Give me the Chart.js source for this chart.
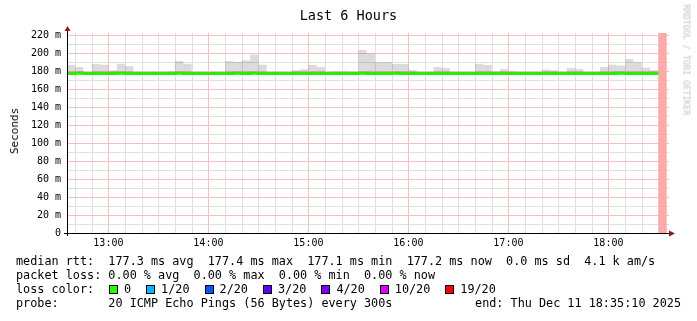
<!DOCTYPE html>
<html>
<head>
<meta charset="utf-8">
<script src="https://cdn.jsdelivr.net/npm/chart.js@4/dist/chart.umd.min.js"></script>
<style>
  body { margin: 0; background: #fff; }
  #wrap { position: relative; width: 697px; height: 321px; font-family: 'DejaVu Sans Mono', monospace; color: #000; overflow: hidden; }
  #chart { position: absolute; left: 0; top: 0; }
  .txt { position: absolute; white-space: pre; font-size: 11.8px; line-height: 14px; }
  #title { position: absolute; left: 0; width: 697px; top: 7px; text-align: center; font-size: 13.5px; line-height: 16px; }
  #ylabel { position: absolute; left: 15px; top: 131px; font-size: 11px; line-height: 12px; transform: translate(-50%, -50%) rotate(-90deg); white-space: pre; }
  #brand { position: absolute; left: 686px; top: 60px; font-size: 8.4px; line-height: 9px; color: #c4c4c4; transform: translate(-50%, -50%) rotate(90deg); white-space: pre; }
  .box { display: inline-block; width: 7px; height: 7px; border: 1px solid #000; margin-right: 6px; vertical-align: -1px; }
  .lbl { margin-right: 15px; }
</style>
</head>
<body>
<div id="wrap">
  <canvas id="chart" width="697" height="321"></canvas>
  <div id="title">Last 6 Hours</div>
  <div id="ylabel">Seconds</div>
  <div id="brand">RRDTOOL / TOBI OETIKER</div>
  <div class="txt" style="left:16px; top:254px">median rtt:  177.3 ms avg  177.4 ms max  177.1 ms min  177.2 ms now  0.0 ms sd  4.1 k am/s</div>
  <div class="txt" style="left:16px; top:268px">packet loss: 0.00 % avg  0.00 % max  0.00 % min  0.00 % now</div>
  <div class="txt" style="left:16px; top:282px">loss color:</div>
  <div class="txt" id="losscolors" style="left:109px; top:282px"></div>
  <div class="txt" style="left:16px; top:296px">probe:       20 ICMP Echo Pings (56 Bytes) every 300s</div>
  <div class="txt" style="right:16px; top:296px">end: Thu Dec 11 18:35:10 2025</div>
</div>
<script>
// time axis in minutes after 12:00; rrd steps of 5 minutes starting 12:35
const startMinute = 35;
const stepMinutes = 5;
const xMin = 35 + 10 / 60;   // 12:35:10
const xMax = 395 + 10 / 60;  // 18:35:10
const xTickValues = [40, 50, 60, 70, 80, 90, 100, 110, 120, 130, 140, 150, 160, 170, 180, 190, 200, 210,
  220, 230, 240, 250, 260, 270, 280, 290, 300, 310, 320, 330, 340, 350, 360, 370, 380, 390];

// y axis (ms)
const yMax = 222.2;
const yTickValues = [0, 10, 20, 30, 40, 50, 60, 70, 80, 90, 100, 110, 120, 130, 140, 150, 160, 170, 180, 190, 200, 210, 220];

// smoke: slowest ping per step (ms)
const smokeTop = [
  186.7, 184.4, 178.5, 187.8, 187.0, 180.8, 188.0, 185.5, 178.5, 178.5,
  178.5, 178.5, 179.4, 191.0, 188.0, 178.5, 178.5, 178.5, 178.5, 191.0,
  190.0, 191.8, 198.1, 187.0, 178.5, 178.5, 178.5, 181.0, 182.0, 186.7,
  184.4, 178.5, 179.4, 179.4, 178.5, 203.3, 199.6, 190.0, 190.0, 187.8,
  187.8, 181.0, 178.5, 178.5, 184.4, 183.3, 178.5, 178.5, 178.5, 188.0,
  186.7, 179.4, 182.0, 179.4, 178.5, 178.5, 178.5, 181.5, 180.8, 178.5,
  183.3, 182.0, 178.5, 178.5, 184.4, 187.0, 186.0, 193.3, 190.0, 183.7,
  181.0
];
const smokeFloor = 176.9;

// median rtt per step (ms)
const medianRtt = [
  177.3, 177.4, 177.2, 177.3, 177.3, 177.2, 177.4, 177.3, 177.2, 177.1,
  177.2, 177.2, 177.3, 177.4, 177.3, 177.2, 177.1, 177.2, 177.3, 177.3,
  177.4, 177.3, 177.4, 177.3, 177.2, 177.2, 177.1, 177.2, 177.3, 177.3,
  177.2, 177.2, 177.3, 177.2, 177.2, 177.4, 177.3, 177.3, 177.3, 177.4,
  177.3, 177.2, 177.1, 177.2, 177.3, 177.2, 177.2, 177.1, 177.2, 177.3,
  177.3, 177.2, 177.3, 177.2, 177.2, 177.1, 177.2, 177.3, 177.2, 177.2,
  177.3, 177.2, 177.2, 177.2, 177.3, 177.3, 177.4, 177.3, 177.3, 177.2,
  177.2
];

// step with no data yet (drawn as the pink column)
const pendingSteps = [71];

const lossLabels = ['0', '1/20', '2/20', '3/20', '4/20', '10/20', '19/20'];
const lossColors = ['#26ff00', '#00b8ff', '#0059ff', '#5e00ff', '#7e00ff', '#dd00ff', '#ff0000'];

document.getElementById('losscolors').innerHTML = lossLabels.map(function (l, i) {
  return '<span class="box" style="background:' + lossColors[i] + '"></span><span class="lbl">' + l + '</span>';
}).join('');

const smokeData = smokeTop.map(function (t, i) {
  return { x: startMinute + stepMinutes * (i + 0.5), y: [smokeFloor, t] };
});
const pendingData = pendingSteps.map(function (s) {
  return { x: startMinute + stepMinutes * (s + 0.5), y: [0, yMax] };
});
const medianData = medianRtt.map(function (v, i) {
  return { x: startMinute + stepMinutes * i, y: v };
});
medianData.push({ x: startMinute + stepMinutes * medianRtt.length, y: medianRtt[medianRtt.length - 1] });

const RED_GRID = '#f7c0c0';
const GRAY_GRID = '#e0e0e0';

// rrdtool style grid: gray every 10, red on hours / every 20 ms
const rrdGrid = {
  id: 'rrdGrid',
  beforeDatasetsDraw(chart) {
    const ctx = chart.ctx;
    const a = chart.chartArea;
    const xs = chart.scales.x;
    const ys = chart.scales.y;
    ctx.save();
    ctx.lineWidth = 1;
    [false, true].forEach(function (major) {
      ctx.strokeStyle = major ? RED_GRID : GRAY_GRID;
      ctx.beginPath();
      xTickValues.forEach(function (v) {
        if ((v % 60 === 0) !== major) return;
        const px = Math.round(xs.getPixelForValue(v)) + 0.5;
        ctx.moveTo(px, a.top);
        ctx.lineTo(px, a.bottom);
      });
      yTickValues.forEach(function (v) {
        if ((v % 20 === 0) !== major) return;
        const py = Math.round(ys.getPixelForValue(v)) + 0.5;
        ctx.moveTo(a.left, py);
        ctx.lineTo(a.right + 2, py);
      });
      ctx.stroke();
    });
    ctx.restore();
  }
};

const axisArrows = {
  id: 'axisArrows',
  afterDraw(chart) {
    const ctx = chart.ctx;
    const a = chart.chartArea;
    const bx = Math.round(a.left) + 0.5;
    const by = Math.round(a.bottom) + 0.5;
    ctx.save();
    ctx.strokeStyle = '#000';
    ctx.lineWidth = 1;
    ctx.beginPath();
    ctx.moveTo(a.left - 3, by);
    ctx.lineTo(a.right + 3, by);
    ctx.moveTo(bx, a.bottom + 3);
    ctx.lineTo(bx, a.top - 3);
    ctx.stroke();
    ctx.fillStyle = '#8c1a1a';
    ctx.beginPath();
    ctx.moveTo(bx, a.top - 7);
    ctx.lineTo(bx - 3, a.top - 2);
    ctx.lineTo(bx + 3, a.top - 2);
    ctx.closePath();
    ctx.fill();
    ctx.beginPath();
    ctx.moveTo(a.right + 8, by);
    ctx.lineTo(a.right + 2, by - 3);
    ctx.lineTo(a.right + 2, by + 3);
    ctx.closePath();
    ctx.fill();
    ctx.restore();
  }
};

new Chart(document.getElementById('chart').getContext('2d'), {
  type: 'bar',
  data: {
    datasets: [{
      type: 'line',
      data: medianData,
      borderColor: '#26ee00',
      borderWidth: 3,
      pointRadius: 0,
      stepped: true,
      order: 0
    }, {
      data: smokeData,
      backgroundColor: 'rgba(0, 0, 0, 0.14)',
      borderWidth: 0,
      inflateAmount: 0,
      grouped: false,
      barPercentage: 1,
      categoryPercentage: 1,
      order: 2
    }, {
      data: pendingData,
      backgroundColor: '#ffaaaa',
      borderWidth: 0,
      inflateAmount: 0,
      grouped: false,
      barPercentage: 1,
      categoryPercentage: 1,
      order: 1
    }]
  },
  options: {
    responsive: false,
    devicePixelRatio: 1,
    animation: false,
    layout: { padding: { left: 0, top: 33, right: 30, bottom: 0 } },
    plugins: {
      legend: { display: false },
      title: { display: false },
      tooltip: { enabled: false }
    },
    scales: {
      x: {
        type: 'linear',
        min: xMin,
        max: xMax,
        offset: false,
        afterBuildTicks: function (scale) {
          scale.ticks = xTickValues.map(function (v) { return { value: v }; });
        },
        afterFit: function (scale) { scale.height = 88; },
        grid: { display: false, offset: false, drawTicks: false },
        border: { color: '#000' },
        ticks: {
          autoSkip: false,
          maxRotation: 0,
          padding: 4,
          color: '#000',
          font: { family: 'DejaVu Sans Mono', size: 10 },
          callback: function (v) { return v % 60 === 0 ? (12 + v / 60) + ':00' : ''; }
        }
      },
      y: {
        min: 0,
        max: yMax,
        afterBuildTicks: function (scale) {
          scale.ticks = yTickValues.map(function (v) { return { value: v }; });
        },
        afterFit: function (scale) { scale.width = 67; },
        grid: { display: false, drawTicks: false },
        border: { color: '#000' },
        ticks: {
          autoSkip: false,
          padding: 6,
          color: '#000',
          font: { family: 'DejaVu Sans Mono', size: 10 },
          callback: function (v) { return v === 0 ? '0' : (v % 20 === 0 ? v + ' m' : ''); }
        }
      }
    }
  },
  plugins: [rrdGrid, axisArrows]
});
</script>
</body>
</html>
